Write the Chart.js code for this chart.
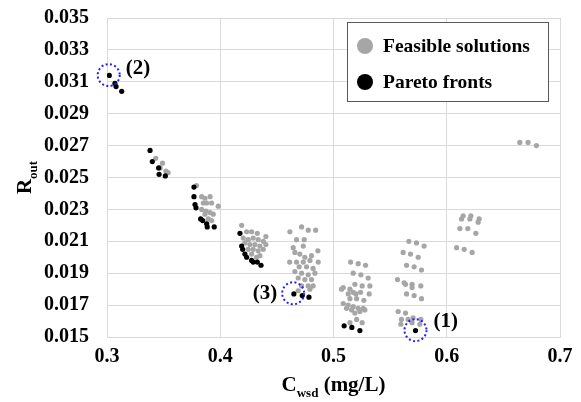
<!DOCTYPE html>
<html>
<head>
<meta charset="utf-8">
<script src="https://cdn.jsdelivr.net/npm/chart.js@4.4.1/dist/chart.umd.min.js"></script>
<style>
    html, body { margin: 0; padding: 0; background: #fff; }
    #wrap { width: 581px; height: 402px; }
</style>
</head>
<body>
<div id="wrap"><canvas id="chart" width="581" height="402"></canvas></div>
<script>
// Axis ticks
const xTicks = [0.3, 0.4, 0.5, 0.6, 0.7];
const yTicks = [0.015, 0.017, 0.019, 0.021, 0.023, 0.025, 0.027, 0.029, 0.031, 0.033, 0.035];

// Pareto fronts (black), [Cwsd, Rout]
const paretoFronts = [
    [0.302, 0.0314], [0.307, 0.0309], [0.308, 0.0307], [0.313, 0.0304],
    [0.338, 0.0267], [0.340, 0.0260], [0.3456, 0.0256], [0.346, 0.0252], [0.3515, 0.0251],
    [0.3768, 0.0244], [0.3768, 0.0238], [0.3777, 0.0233], [0.3786, 0.0231], [0.3827, 0.0224],
    [0.3845, 0.0223], [0.388, 0.0221], [0.3885, 0.0219], [0.3947, 0.0219],
    [0.4174, 0.0215], [0.4189, 0.0207], [0.4198, 0.0205], [0.4218, 0.0202], [0.4233, 0.0200],
    [0.4277, 0.0198], [0.4291, 0.0197], [0.4327, 0.0197], [0.436, 0.0195],
    [0.465, 0.0177], [0.4724, 0.0176], [0.4783, 0.0175],
    [0.5094, 0.0157], [0.5162, 0.0156], [0.5233, 0.0154],
    [0.5724, 0.0154]
];

// Feasible solutions (gray)
const feasibleSolutions = [
    [0.343, 0.0262], [0.349, 0.0259], [0.347, 0.0256], [0.352, 0.0254], [0.354, 0.0253],

    [0.379, 0.0245], [0.3836, 0.0238], [0.3865, 0.0237], [0.391, 0.0238], [0.385, 0.0234],
    [0.388, 0.0234], [0.3924, 0.0234], [0.3982, 0.0232], [0.3836, 0.0230], [0.3874, 0.0229],
    [0.391, 0.0228], [0.3938, 0.0227], [0.3865, 0.0227], [0.3894, 0.0224], [0.3924, 0.0223],

    [0.4189, 0.0220], [0.4233, 0.0216], [0.4277, 0.0216], [0.4327, 0.0215], [0.4403, 0.0213],
    [0.4203, 0.0212], [0.4247, 0.0211], [0.4291, 0.0212], [0.4335, 0.0211], [0.438, 0.0210],
    [0.4218, 0.0209], [0.4262, 0.0208], [0.4306, 0.0208], [0.435, 0.0207], [0.4403, 0.0208],
    [0.4247, 0.0205], [0.4291, 0.0205], [0.4335, 0.0204], [0.438, 0.0205], [0.4277, 0.0202],
    [0.432, 0.0200], [0.435, 0.0201],

    [0.4615, 0.0216], [0.4718, 0.0219], [0.4777, 0.0217], [0.4842, 0.0217], [0.4674, 0.0211],
    [0.4741, 0.0211],
    [0.4644, 0.0206], [0.4733, 0.0207], [0.4659, 0.0203], [0.4703, 0.0202], [0.4792, 0.0198],
    [0.4865, 0.0197], [0.4733, 0.0197], [0.4674, 0.0197], [0.4697, 0.0194], [0.4762, 0.0194],
    [0.482, 0.0193], [0.4659, 0.0191], [0.4718, 0.0190], [0.4777, 0.0189], [0.4836, 0.0190],
    [0.4688, 0.0187], [0.4747, 0.0186], [0.4806, 0.0186], [0.4718, 0.0182], [0.4777, 0.0182],
    [0.482, 0.0182], [0.4688, 0.0179], [0.4792, 0.0180], [0.4747, 0.0200], [0.4806, 0.0201],
    [0.4613, 0.0197], [0.4862, 0.0204],

    [0.5151, 0.0197], [0.5218, 0.0196], [0.5283, 0.0195], [0.5174, 0.0190], [0.5242, 0.0189],
    [0.5306, 0.0187], [0.5189, 0.0183], [0.5253, 0.0182], [0.5321, 0.0182], [0.5086, 0.0181],
    [0.5071, 0.0180], [0.5145, 0.0180], [0.5174, 0.0178], [0.5239, 0.0178], [0.513, 0.0177],
    [0.5198, 0.0177], [0.5315, 0.0177], [0.5145, 0.0174], [0.5204, 0.0174], [0.5268, 0.0173],
    [0.5086, 0.0171], [0.513, 0.0170], [0.5174, 0.0169], [0.5218, 0.0168], [0.5262, 0.0168],
    [0.5115, 0.0168], [0.516, 0.0167], [0.5233, 0.0166], [0.5277, 0.0167], [0.5189, 0.0165],
    [0.5204, 0.0161], [0.5145, 0.0159], [0.5253, 0.0159],

    [0.5665, 0.0210], [0.5733, 0.0209], [0.580, 0.0207], [0.5615, 0.0203], [0.568, 0.0202],
    [0.5748, 0.0200], [0.5645, 0.0195], [0.5712, 0.0194], [0.5777, 0.0192], [0.5565, 0.0186],
    [0.5624, 0.0184], [0.5636, 0.0183], [0.5694, 0.0183], [0.5694, 0.0181], [0.5771, 0.0182],
    [0.5645, 0.0177], [0.5712, 0.0176], [0.5777, 0.0174], [0.5571, 0.0166], [0.5636, 0.0165],
    [0.560, 0.0161], [0.5595, 0.0158], [0.5659, 0.0161], [0.5703, 0.0162], [0.5694, 0.0159],
    [0.5771, 0.0161], [0.5762, 0.0158],

    [0.6145, 0.0226], [0.6213, 0.0226], [0.6286, 0.0224], [0.6131, 0.0224], [0.6204, 0.0224],
    [0.6277, 0.0222], [0.6116, 0.0218], [0.6186, 0.0218], [0.6257, 0.0215], [0.6087, 0.0206],
    [0.6154, 0.0205], [0.6224, 0.0203],

    [0.6645, 0.0272], [0.6718, 0.0272], [0.6792, 0.0270]
];

// Circled solutions
const highlighted = [
    { label: '(1)', x: 0.5724, y: 0.01543 },
    { label: '(2)', x: 0.3015, y: 0.03142 },
    { label: '(3)', x: 0.4644, y: 0.01774 }
];

const legendItems = [
    { text: 'Feasible solutions', color: '#a6a6a6' },
    { text: 'Pareto fronts', color: '#000000' }
];

const SERIF = '"Liberation Serif", "Times New Roman", serif';

function toPoints(list) {
    return list.map(function(p) { return { x: p[0], y: p[1] }; });
}

// Draw text made of normal and subscript parts, centred on (cx, cy)
function drawSubText(ctx, parts, cx, cy, size) {
    const subSize = Math.round(size * 0.62);
    let total = 0;
    parts.forEach(function(p) {
        ctx.font = 'bold ' + (p.sub ? subSize : size) + 'px ' + SERIF;
        p.w = ctx.measureText(p.t).width;
        total += p.w;
    });
    let x = cx - total / 2;
    ctx.textAlign = 'left';
    ctx.textBaseline = 'alphabetic';
    parts.forEach(function(p) {
        ctx.font = 'bold ' + (p.sub ? subSize : size) + 'px ' + SERIF;
        ctx.fillText(p.t, x, cy + size * 0.34 + (p.sub ? size * 0.28 : 0));
        x += p.w;
    });
}

const overlayPlugin = {
    id: 'overlay',
    afterDraw: function(chart) {
        const ctx = chart.ctx;
        const xs = chart.scales.x;
        const ys = chart.scales.y;
        const area = chart.chartArea;

        // dotted circles and their labels
        const labelPos = {
            '(1)': { dx: 18, dy: -9, align: 'left' },
            '(2)': { dx: 17, dy: -7, align: 'left' },
            '(3)': { dx: -16, dy: 0, align: 'right' }
        };
        highlighted.forEach(function(h) {
            const px = xs.getPixelForValue(h.x);
            const py = ys.getPixelForValue(h.y);
            ctx.save();
            ctx.strokeStyle = '#1f1fff';
            ctx.lineWidth = 2;
            ctx.setLineDash([2, 2.4]);
            ctx.beginPath();
            ctx.arc(px, py, 11, 0, Math.PI * 2);
            ctx.stroke();
            ctx.restore();

            const lp = labelPos[h.label];
            ctx.save();
            ctx.fillStyle = '#000';
            ctx.font = 'bold 21px ' + SERIF;
            ctx.textAlign = lp.align;
            ctx.textBaseline = 'middle';
            ctx.fillText(h.label, px + lp.dx, py + lp.dy);
            ctx.restore();
        });

        // legend box
        ctx.save();
        const boxLeft = area.right - 213;
        const boxTop = area.top + 4;
        ctx.fillStyle = '#fff';
        ctx.fillRect(boxLeft, boxTop, 201, 79);
        ctx.strokeStyle = '#595959';
        ctx.lineWidth = 1;
        ctx.strokeRect(boxLeft + 0.5, boxTop + 0.5, 201, 79);
        legendItems.forEach(function(item, i) {
            const cy = boxTop + 24 + i * 36;
            ctx.fillStyle = item.color;
            ctx.beginPath();
            ctx.arc(boxLeft + 18, cy, 8, 0, Math.PI * 2);
            ctx.fill();
            ctx.fillStyle = '#000';
            ctx.font = 'bold 19.5px ' + SERIF;
            ctx.textAlign = 'left';
            ctx.textBaseline = 'middle';
            ctx.fillText(item.text, boxLeft + 36, cy + 1);
        });
        ctx.restore();

        // axis titles with subscripts
        ctx.save();
        ctx.fillStyle = '#000';
        drawSubText(ctx, [{ t: 'C' }, { t: 'wsd', sub: true }, { t: ' (mg/L)' }],
            (area.left + area.right) / 2, 384, 21);
        ctx.translate(24, (area.top + area.bottom) / 2);
        ctx.rotate(-Math.PI / 2);
        drawSubText(ctx, [{ t: 'R' }, { t: 'out', sub: true }], 0, 0, 21);
        ctx.restore();
    }
};

const tickFont = { family: SERIF, size: 20, weight: 'bold' };

new Chart(document.getElementById('chart'), {
    type: 'scatter',
    data: {
        datasets: [{
            label: 'Pareto fronts',
            data: toPoints(paretoFronts),
            backgroundColor: '#000000',
            borderWidth: 0,
            pointRadius: 2.6,
            order: 0
        }, {
            label: 'Feasible solutions',
            data: toPoints(feasibleSolutions),
            backgroundColor: '#a6a6a6',
            borderWidth: 0,
            pointRadius: 2.6,
            order: 1
        }]
    },
    options: {
        responsive: false,
        animation: false,
        devicePixelRatio: 1,
        layout: { padding: { top: 18, right: 21, left: 0, bottom: 0 } },
        plugins: {
            legend: { display: false },
            tooltip: { enabled: false }
        },
        scales: {
            x: {
                type: 'linear',
                min: 0.3,
                max: 0.7,
                afterBuildTicks: function(s) { s.ticks = xTicks.map(function(v) { return { value: v }; }); },
                afterFit: function(s) { s.height = 65; },
                ticks: {
                    font: tickFont,
                    color: '#000',
                    padding: 0,
                    callback: function(v) { return v.toFixed(1); }
                },
                grid: { color: '#d9d9d9', tickLength: 8, tickColor: 'rgba(0,0,0,0)' },
                border: { color: '#d9d9d9' }
            },
            y: {
                type: 'linear',
                min: 0.015,
                max: 0.035,
                afterBuildTicks: function(s) { s.ticks = yTicks.map(function(v) { return { value: v }; }); },
                afterFit: function(s) { s.width = 107; },
                ticks: {
                    font: tickFont,
                    color: '#000',
                    padding: 0,
                    callback: function(v) { return v.toFixed(3); }
                },
                grid: { color: '#d9d9d9', tickLength: 18, tickColor: 'rgba(0,0,0,0)' },
                border: { color: '#d9d9d9' }
            }
        }
    },
    plugins: [overlayPlugin]
});
</script>
</body>
</html>
